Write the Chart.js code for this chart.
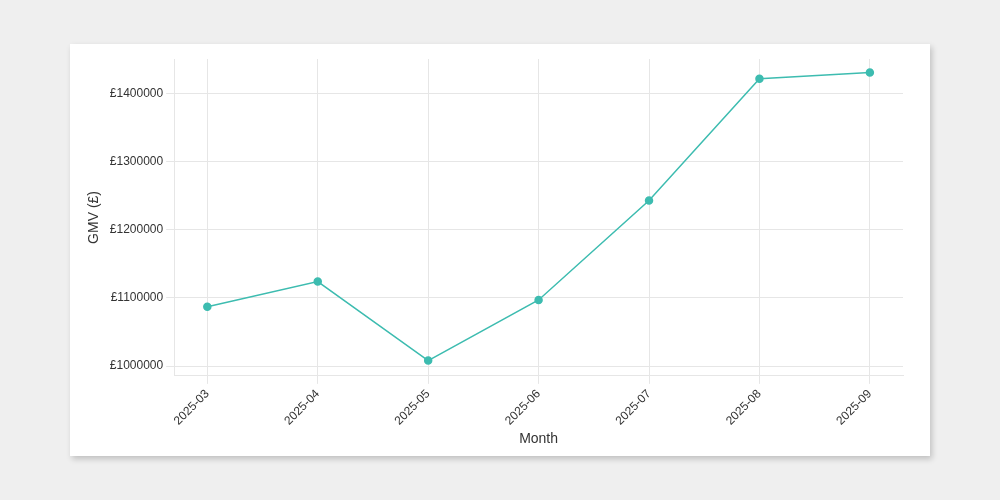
<!DOCTYPE html>
<html><head><meta charset="utf-8">
<script src="https://cdn.jsdelivr.net/npm/chart.js@4"></script>
<style>
html,body{margin:0;padding:0;background:#efefef;width:1000px;height:500px;overflow:hidden}
#card{position:absolute;left:70px;top:44px;width:860px;height:412px;background:#fff;box-shadow:2px 3px 6px rgba(0,0,0,0.2)}
canvas{position:absolute;left:0;top:0}
</style></head><body>
<div id="card"><canvas id="c" width="860" height="412"></canvas></div>
<script>
const months=["2025-03","2025-04","2025-05","2025-06","2025-07","2025-08","2025-09"];
const gmv=[1087000,1124000,1008000,1097000,1243000,1422000,1431000];
const yTicks=[1000000,1100000,1200000,1300000,1400000];
new Chart(document.getElementById('c'),{
type:'line',
data:{datasets:[{data:gmv.map((v,i)=>({x:i,y:v})),borderColor:'#3dbcb0',backgroundColor:'#3dbcb0',borderWidth:1.5,pointRadius:3.5,tension:0}]},
options:{responsive:false,animation:false,
layout:{padding:{left:12,right:27,top:15,bottom:4}},
plugins:{legend:{display:false},tooltip:{enabled:false}},
scales:{
x:{type:'linear',min:-0.3,max:6.3,
afterBuildTicks:a=>{a.ticks=months.map((m,i)=>({value:i}));},
ticks:{callback:v=>months[v],maxRotation:45,minRotation:45,color:'#333',font:{family:'Liberation Sans',size:12}},
grid:{color:'#e6e6e6'},border:{color:'#e6e6e6'},
title:{display:true,text:'Month',color:'#333',font:{family:'Liberation Sans',size:14},padding:{top:0}}},
y:{min:985500,max:1451000,
afterBuildTicks:a=>{a.ticks=yTicks.map(v=>({value:v}));},
ticks:{callback:v=>'£'+v,color:'#333',font:{family:'Liberation Sans',size:12}},
grid:{color:'#e6e6e6'},border:{color:'#e6e6e6'},
title:{display:true,text:'GMV (£)',color:'#333',font:{family:'Liberation Sans',size:14}}}
}}});
</script></body></html>
